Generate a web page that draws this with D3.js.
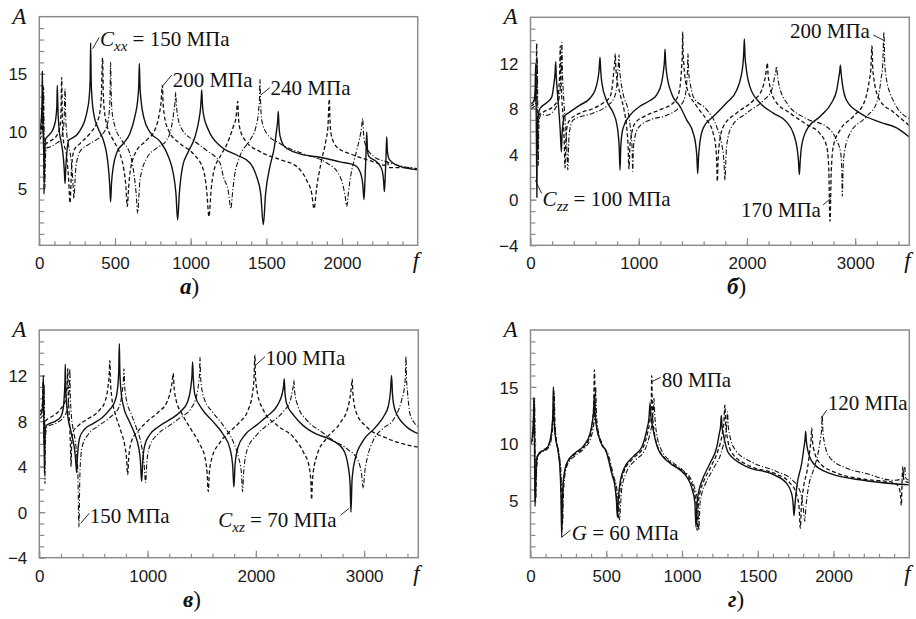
<!DOCTYPE html>
<html>
<head>
<meta charset="utf-8">
<script src="https://cdn.jsdelivr.net/npm/d3@7"></script>
<style>
  body { margin: 0; background: #fff; }
  svg { display: block; background: #fff; }
  .tick text { font-family: "Liberation Sans", Arial, sans-serif; font-size: 17px; fill: #1a1a1a; }
  .note { font-family: "Liberation Serif", "DejaVu Serif", serif; font-size: 21px; fill: #111; }
  .axname { font-family: "Liberation Serif", "DejaVu Serif", serif; font-style: italic; font-size: 23px; fill: #111; }
  .caption { font-family: "Liberation Serif", "DejaVu Serif", serif; font-size: 23px; fill: #111; }
</style>
</head>
<body>
<svg id="chart" width="916" height="619"></svg>
<script>
// ---- panel а : C_xx = 150 / 200 / 240 MPa ----
var aSolid = [[0,10.0],[8,10.3],[14,11.2],[18,12.6],[20,15.2],[22,12.2],[26,9.6],[30,7.8],[33,5.9],[36,8.2],[42,9.3],[60,9.6],[85,10.0],[100,10.5],[110,11.2],[116,12.2],[119,14.0],[123,12.0],[132,10.0],[145,9.0],[158,7.8],[165,6.6],[170,5.4],[175,6.8],[184,8.4],[195,9.2],[220,9.4],[250,9.7],[280,10.3],[300,10.9],[317,11.8],[330,13.0],[336,14.5],[339,17.7],[343,14.3],[348,12.9],[361,11.4],[390,10.2],[423,9.2],[445,8.0],[458,6.6],[466,5.1],[471,3.8],[477,5.4],[489,6.9],[515,8.2],[555,8.9],[599,9.8],[632,11.3],[650,12.7],[657,14.0],[661,15.9],[665,14.0],[672,12.7],[692,11.1],[731,9.9],[797,9.1],[852,7.8],[885,6.3],[903,4.5],[914,2.2],[925,4.5],[947,6.9],[985,8.2],[1029,9.5],[1055,11.0],[1066,12.1],[1070,12.9],[1073,13.6],[1077,12.5],[1084,11.5],[1117,10.1],[1194,8.7],[1304,7.9],[1392,7.2],[1436,6.0],[1463,4.5],[1480,1.8],[1495,4.5],[1524,6.9],[1553,8.6],[1568,10.1],[1575,10.9],[1579,11.7],[1583,10.6],[1590,9.6],[1623,8.6],[1722,8.0],[1855,7.7],[1987,7.3],[2086,7.0],[2123,6.3],[2138,5.2],[2145,4.0],[2152,5.8],[2158,7.8],[2163,9.9],[2168,8.4],[2176,7.8],[2229,7.3],[2264,6.6],[2275,5.6],[2280,4.7],[2286,6.2],[2291,7.8],[2295,9.5],[2300,8.2],[2313,7.5],[2383,6.9],[2500,6.6]];
var aDash = [[0,9.6],[10,9.9],[18,10.8],[22,11.8],[25,14.0],[27,11.5],[29,8.5],[31,4.5],[34,7.5],[40,8.8],[70,9.1],[115,9.6],[137,10.4],[143,11.5],[148,14.7],[152,11.2],[159,9.2],[181,7.8],[194,5.7],[203,3.7],[209,5.3],[214,6.9],[229,8.3],[269,8.9],[335,9.8],[379,10.7],[401,11.7],[410,13.0],[418,16.4],[423,13.2],[430,11.8],[449,10.4],[489,9.2],[533,8.0],[559,6.6],[572,5.2],[581,3.4],[590,5.0],[599,6.3],[632,8.0],[709,9.2],[764,10.1],[793,11.5],[805,12.6],[813,14.0],[818,12.4],[826,11.4],[852,10.1],[930,8.9],[1018,8.0],[1084,6.6],[1106,4.8],[1121,2.5],[1135,4.8],[1150,6.3],[1200,7.9],[1238,8.8],[1282,10.4],[1300,11.2],[1311,12.6],[1316,11.2],[1322,10.4],[1359,9.2],[1458,8.2],[1590,7.5],[1700,6.9],[1766,5.7],[1800,4.5],[1815,3.2],[1833,5.1],[1866,7.5],[1894,9.2],[1907,10.4],[1916,12.8],[1921,10.8],[1927,9.8],[1965,8.6],[2075,7.9],[2163,7.5],[2229,7.2],[2280,7.0],[2300,7.3],[2310,6.8],[2400,6.8],[2500,6.7]];
var aDashDot = [[0,9.2],[12,9.5],[22,10.3],[26,11.5],[29,13.8],[31,10.8],[34,8.0],[37,5.0],[40,7.5],[46,8.5],[70,8.6],[110,8.9],[137,9.2],[155,9.9],[164,11.0],[170,13.7],[175,11.0],[181,9.8],[195,8.6],[207,7.8],[220,6.0],[229,4.1],[236,5.6],[242,6.9],[269,8.2],[335,8.9],[401,9.5],[445,10.4],[463,11.8],[468,13.5],[471,16.0],[475,13.4],[480,11.8],[500,10.4],[544,9.2],[599,8.0],[628,6.0],[640,4.5],[650,2.8],[658,4.3],[665,5.7],[709,7.6],[775,8.5],[841,9.2],[874,10.4],[890,11.8],[897,12.6],[901,13.4],[905,12.4],[912,11.5],[940,10.2],[1018,9.2],[1106,8.3],[1194,7.2],[1216,6.0],[1249,4.7],[1266,3.2],[1276,4.5],[1286,5.7],[1326,7.8],[1392,9.2],[1432,10.4],[1449,11.8],[1455,13.0],[1458,14.5],[1462,12.6],[1469,11.0],[1502,9.8],[1590,8.9],[1744,8.0],[1899,7.2],[1975,6.3],[2009,5.1],[2022,4.2],[2031,3.4],[2042,4.6],[2053,5.7],[2097,8.3],[2123,9.8],[2130,10.4],[2136,11.1],[2142,9.8],[2152,8.9],[2207,7.8],[2295,7.3],[2400,6.9],[2500,6.7]];

// ---- panel б : C_zz = 100 / 170 / 200 MPa ----
var bSolid = [[0,8.4],[20,8.5],[35,8.8],[43,9.8],[48,11.9],[51,9.5],[54,6.0],[57,2.5],[59,0.2],[62,4.5],[68,7.0],[76,7.6],[88,8.0],[149,8.5],[196,9.0],[217,10.2],[227,11.1],[233,12.1],[238,10.8],[248,9.5],[262,7.8],[275,6.0],[285,4.2],[292,5.8],[302,6.8],[310,7.3],[365,7.7],[457,8.3],[550,8.9],[596,9.6],[621,10.5],[634,11.4],[642,12.5],[649,11.3],[660,10.2],[703,8.7],[765,7.6],[796,6.7],[812,5.6],[820,4.5],[827,2.6],[834,4.6],[845,5.8],[864,6.5],[919,7.4],[1012,8.2],[1104,8.7],[1166,9.2],[1212,10.3],[1230,11.4],[1238,12.2],[1243,13.2],[1249,12.0],[1258,11.1],[1304,9.3],[1381,8.2],[1443,7.0],[1505,5.8],[1527,4.8],[1537,3.8],[1545,2.3],[1553,3.8],[1565,5.0],[1597,6.3],[1689,7.3],[1812,8.5],[1905,9.6],[1945,10.8],[1962,11.8],[1970,12.8],[1976,14.1],[1982,12.6],[1991,11.7],[2028,9.9],[2120,8.5],[2243,7.6],[2367,6.8],[2429,5.8],[2465,4.4],[2476,3.4],[2484,2.2],[2492,3.4],[2505,4.7],[2551,6.1],[2675,7.3],[2782,8.5],[2829,9.6],[2850,10.8],[2858,11.3],[2863,11.8],[2869,11.2],[2881,10.2],[2921,8.7],[3044,7.6],[3229,6.8],[3383,6.3],[3500,5.5]];
var bDash = [[0,8.2],[20,8.3],[40,8.6],[50,9.8],[54,11.5],[57,13.7],[60,10.5],[63,7.0],[66,4.5],[70,6.5],[76,7.4],[119,7.7],[211,8.2],[248,8.7],[262,9.8],[270,11.2],[275,13.5],[280,11.0],[290,8.8],[303,7.0],[312,5.0],[319,2.8],[327,5.2],[340,6.5],[365,7.0],[457,7.6],[580,8.0],[673,8.5],[734,9.0],[759,10.2],[771,11.4],[778,12.0],[783,12.8],[789,11.5],[796,10.8],[827,9.3],[864,7.9],[888,6.4],[901,4.9],[910,2.7],[918,4.6],[925,5.2],[965,6.7],[1073,7.4],[1197,7.9],[1320,8.5],[1369,9.3],[1388,10.5],[1397,11.7],[1403,13.0],[1406,14.7],[1410,13.0],[1418,11.7],[1443,9.9],[1536,8.2],[1628,7.0],[1689,5.8],[1714,4.4],[1721,3.2],[1726,1.6],[1732,3.2],[1742,4.7],[1781,6.4],[1905,7.6],[2059,8.7],[2136,9.6],[2170,10.8],[2180,11.4],[2188,12.0],[2195,11.0],[2207,10.2],[2259,8.7],[2398,7.6],[2551,6.6],[2675,5.8],[2736,4.7],[2755,3.0],[2767,-1.9],[2779,2.5],[2798,4.7],[2860,6.1],[2983,7.3],[3090,8.7],[3131,10.5],[3145,11.5],[3155,13.5],[3162,11.6],[3174,10.5],[3229,8.7],[3352,7.7],[3500,6.5]];
var bDashDot = [[0,8.0],[25,8.1],[45,8.4],[56,9.5],[60,10.8],[63,12.3],[66,9.5],[69,6.5],[72,3.0],[76,6.0],[84,7.2],[100,7.5],[149,7.4],[241,8.2],[266,9.0],[278,10.2],[285,11.5],[290,13.8],[295,11.2],[305,9.2],[320,7.0],[333,5.2],[345,2.6],[353,5.0],[365,6.2],[396,7.0],[580,7.6],[703,8.2],[771,8.9],[796,9.9],[808,11.4],[813,12.0],[818,12.7],[823,11.5],[830,10.8],[858,9.2],[904,7.7],[925,6.1],[938,4.7],[944,2.5],[951,4.5],[959,5.2],[996,6.3],[1104,7.0],[1258,7.4],[1381,8.2],[1427,9.0],[1443,10.2],[1450,11.3],[1455,12.8],[1461,11.2],[1474,10.3],[1505,9.0],[1628,7.9],[1720,6.4],[1766,4.9],[1787,3.4],[1797,1.7],[1805,3.4],[1812,4.7],[1858,6.4],[1997,7.6],[2151,8.7],[2228,9.6],[2256,10.8],[2266,11.2],[2274,11.7],[2281,11.0],[2293,10.2],[2367,8.5],[2551,7.1],[2736,6.4],[2829,5.2],[2866,4.1],[2876,2.6],[2881,0.3],[2888,2.6],[2900,4.1],[2952,5.8],[3106,7.3],[3198,8.5],[3238,10.5],[3255,12.0],[3266,14.7],[3273,12.0],[3285,10.8],[3352,8.7],[3500,7.1]];

// ---- panel в : C_xz = 70 / 100 / 150 MPa ----
var vSolid = [[0,8.5],[20,8.7],[30,9.3],[34,10.3],[37,12.0],[40,9.6],[43,7.0],[46,5.0],[48,3.4],[51,5.8],[55,7.0],[62,7.6],[100,7.8],[150,8.0],[200,8.4],[222,9.2],[232,10.4],[237,11.4],[240,13.0],[244,11.0],[250,9.8],[265,8.3],[290,7.2],[315,6.1],[332,5.0],[340,4.0],[345,3.5],[350,4.5],[358,5.6],[375,6.6],[420,7.3],[500,7.8],[580,8.3],[650,9.0],[700,9.8],[722,10.8],[733,12.2],[739,14.8],[744,12.4],[752,10.9],[775,9.4],[830,8.0],[880,6.9],[915,5.8],[933,4.6],[945,2.7],[956,4.6],[975,5.9],[1020,6.8],[1100,7.5],[1200,8.1],[1300,8.8],[1370,9.7],[1398,10.9],[1410,12.0],[1416,13.2],[1422,11.8],[1437,10.3],[1500,9.1],[1600,8.0],[1700,6.8],[1760,5.6],[1785,4.2],[1797,2.2],[1808,4.2],[1835,5.7],[1900,6.8],[2000,7.6],[2100,8.4],[2200,9.4],[2243,10.4],[2255,11.0],[2262,11.7],[2268,10.6],[2285,9.5],[2350,8.5],[2437,7.6],[2550,6.9],[2684,6.4],[2807,5.5],[2853,4.0],[2870,2.5],[2878,0.0],[2888,2.8],[2915,4.6],[2992,6.3],[3100,7.4],[3180,8.4],[3223,9.3],[3243,10.6],[3253,12.0],[3262,10.3],[3284,9.0],[3392,7.5],[3500,6.9]];
var vDash = [[0,8.8],[20,9.0],[28,9.5],[32,10.5],[35,11.5],[38,9.8],[41,7.5],[44,6.0],[48,7.2],[55,8.0],[80,8.2],[150,8.6],[200,9.1],[240,9.8],[252,10.6],[259,11.5],[263,12.6],[267,10.5],[275,8.8],[283,7.0],[289,5.5],[293,4.0],[298,5.8],[308,7.0],[360,7.6],[450,8.2],[550,8.9],[610,9.8],[633,10.9],[645,12.0],[652,13.3],[657,11.6],[668,10.2],[700,8.7],[750,7.2],[790,5.8],[806,4.7],[816,3.3],[826,4.8],[850,6.2],[920,7.2],[1000,8.0],[1100,8.8],[1180,9.7],[1213,10.7],[1228,11.5],[1237,12.2],[1243,11.2],[1262,9.9],[1320,8.6],[1400,7.3],[1480,6.0],[1530,4.8],[1550,3.4],[1560,1.8],[1570,3.4],[1595,4.8],[1660,6.0],[1750,7.0],[1850,7.9],[1930,9.0],[1968,10.4],[1983,11.8],[1991,13.8],[1997,11.8],[2018,10.3],[2068,9.0],[2200,7.6],[2345,6.6],[2437,5.3],[2492,4.0],[2508,2.6],[2515,1.1],[2522,2.8],[2561,4.9],[2653,6.5],[2776,7.8],[2853,9.3],[2876,10.5],[2884,11.2],[2890,11.7],[2896,10.4],[2929,8.7],[3022,7.5],[3207,6.5],[3500,5.7]];
var vDashDot = [[0,8.2],[25,8.4],[38,9.0],[42,10.0],[45,11.2],[48,8.5],[50,5.5],[52,2.5],[55,5.5],[60,7.0],[70,7.5],[150,7.8],[230,8.4],[262,9.2],[274,10.4],[279,11.4],[282,12.6],[286,10.4],[294,8.8],[310,7.4],[330,6.4],[346,5.0],[356,3.5],[366,-1.3],[374,3.0],[385,5.0],[400,5.9],[450,6.8],[550,7.6],[650,8.3],[740,9.3],[763,10.4],[775,11.4],[782,12.6],[788,11.2],[802,10.0],[850,8.6],[900,7.3],[945,5.8],[968,4.2],[982,2.6],[993,4.4],[1020,5.8],[1100,6.9],[1200,7.6],[1300,8.3],[1400,9.1],[1452,10.2],[1472,11.4],[1480,12.3],[1484,13.6],[1489,12.0],[1497,11.1],[1525,9.9],[1600,8.8],[1700,7.6],[1790,6.2],[1840,4.8],[1866,3.5],[1877,1.8],[1888,3.6],[1920,5.5],[2000,6.7],[2100,7.6],[2250,8.8],[2318,9.8],[2340,10.8],[2347,11.2],[2351,11.6],[2357,10.7],[2385,9.4],[2468,8.1],[2600,7.1],[2714,6.3],[2850,5.5],[2940,4.6],[2975,3.4],[2992,2.1],[3004,3.4],[3030,4.8],[3084,6.3],[3180,7.4],[3268,8.1],[3345,9.8],[3372,11.0],[3382,12.2],[3386,13.7],[3391,11.8],[3400,10.6],[3422,8.7],[3460,7.9],[3500,7.5]];

// ---- panel г : G = 60 / 80 / 120 MPa ----
var gSolid = [[0,10.0],[8,10.3],[15,11.0],[20,12.5],[23,14.1],[26,10.5],[28,7.0],[30,4.5],[34,6.5],[38,8.0],[45,8.9],[70,9.3],[107,9.6],[129,10.3],[142,11.5],[148,12.8],[151,15.0],[155,12.5],[162,10.9],[184,9.2],[195,7.7],[201,5.6],[206,1.8],[211,5.0],[217,6.8],[239,8.3],[294,9.2],[349,9.8],[393,10.9],[410,12.1],[417,13.0],[421,14.2],[425,12.8],[432,11.8],[459,10.3],[503,9.2],[536,7.4],[558,6.2],[567,5.0],[573,3.6],[579,5.0],[587,6.2],[613,7.7],[679,8.9],[734,9.7],[767,11.2],[782,12.3],[789,13.6],[795,12.4],[806,11.5],[844,9.5],[921,8.3],[987,7.7],[1031,7.1],[1063,6.2],[1085,4.8],[1092,2.7],[1099,4.7],[1110,5.8],[1130,6.7],[1185,8.3],[1229,9.7],[1246,10.9],[1255,11.6],[1259,12.5],[1264,11.5],[1272,10.9],[1306,9.2],[1427,8.0],[1603,7.3],[1692,6.5],[1724,5.6],[1734,4.6],[1739,3.7],[1745,4.6],[1757,6.2],[1790,8.3],[1805,9.7],[1812,10.4],[1816,11.1],[1821,10.2],[1829,9.5],[1866,8.3],[1977,7.4],[2197,6.8],[2394,6.5],[2500,6.4]];
var gDash = [[0,10.1],[10,10.4],[17,11.2],[22,12.8],[25,14.0],[28,10.0],[30,6.5],[32,5.0],[36,7.0],[40,8.3],[48,9.0],[75,9.4],[110,9.7],[132,10.4],[144,11.6],[150,13.0],[153,14.8],[157,12.3],[164,10.8],[186,9.1],[197,7.6],[203,5.5],[208,2.5],[213,5.3],[219,6.9],[241,8.3],[296,9.1],[351,9.7],[395,10.8],[410,12.0],[417,13.5],[422,16.5],[427,13.2],[435,11.7],[462,10.2],[506,9.1],[540,7.3],[562,6.1],[571,4.8],[578,3.4],[585,4.9],[592,6.1],[618,7.6],[684,8.8],[740,9.6],[773,11.0],[790,12.3],[797,13.6],[800,16.0],[804,13.3],[812,11.5],[850,9.4],[930,8.3],[995,7.7],[1040,7.1],[1072,6.2],[1093,4.8],[1100,2.4],[1107,4.6],[1118,5.7],[1140,6.6],[1195,8.1],[1240,9.5],[1265,10.8],[1276,11.8],[1283,13.4],[1288,11.8],[1296,10.8],[1330,9.2],[1440,8.1],[1610,7.4],[1710,6.6],[1755,5.6],[1772,4.5],[1781,2.6],[1788,4.6],[1800,6.0],[1830,8.0],[1845,9.6],[1852,10.4],[1856,11.4],[1861,10.3],[1870,9.5],[1910,8.3],[2010,7.5],[2200,6.9],[2400,6.6],[2430,6.2],[2442,5.5],[2447,4.6],[2452,6.5],[2457,8.0],[2462,7.0],[2470,6.7],[2500,6.6]];
var gDashDot = [[0,10.0],[12,10.3],[19,11.0],[24,12.6],[27,13.8],[30,10.0],[33,6.5],[35,5.2],[39,7.2],[44,8.4],[52,9.0],[80,9.3],[115,9.6],[136,10.3],[148,11.6],[154,12.8],[157,14.4],[161,12.2],[168,10.7],[190,9.0],[201,7.5],[207,5.5],[212,3.0],[217,5.4],[223,6.8],[245,8.2],[300,9.0],[355,9.6],[400,10.6],[418,11.8],[425,12.8],[430,15.0],[435,12.8],[443,11.5],[470,10.1],[515,9.0],[548,7.2],[570,6.0],[580,4.7],[588,3.3],[595,4.8],[602,6.0],[630,7.4],[695,8.6],[752,9.4],[785,10.7],[802,11.8],[810,12.8],[815,14.0],[820,12.6],[828,11.3],[866,9.4],[945,8.3],[1005,7.7],[1050,7.1],[1082,6.2],[1103,4.9],[1111,2.4],[1118,4.6],[1130,5.6],[1155,6.5],[1210,7.9],[1258,9.2],[1282,10.5],[1294,11.6],[1300,12.8],[1305,11.6],[1314,10.8],[1350,9.5],[1460,8.4],[1620,7.6],[1730,6.8],[1780,5.8],[1800,4.4],[1810,3.2],[1818,4.5],[1832,6.0],[1870,7.8],[1900,9.3],[1915,10.6],[1921,11.3],[1925,12.5],[1930,11.1],[1940,10.1],[1975,8.8],[2100,7.8],[2215,7.4],[2394,6.8],[2450,6.9],[2462,7.3],[2470,8.0],[2476,7.0],[2500,6.8]];

// tick labels
var xTicks2500 = [0, 500, 1000, 1500, 2000];
var xTicks3500 = [0, 1000, 2000, 3000];
var yTicks20 = [5, 10, 15];
var yTicks16 = [-4, 0, 4, 8, 12];

// annotations (data coordinates)
var aNotes = [
    {lead: "C", sub: "xx", text: " = 150 МПа", at: [401, 17.4], line: [[352, 17.2], [396, 18.2]]},
    {text: "200 МПа", at: [881, 13.85], line: [[813, 13.9], [875, 14.9]]},
    {text: "240 МПа", at: [1528, 13.15], line: [[1463, 13.15], [1524, 13.8]]}
];
var bNotes = [
    {lead: "C", sub: "zz", text: " = 100 МПа", at: [112, -0.55], line: [[45, 1.7], [103, 0.55]]},
    {text: "170 МПа", at: [1945, -1.5], line: [[2705, -0.45], [2774, 0.12]]},
    {text: "200 МПа", at: [2398, 14.18], line: [[3167, 14.45], [3260, 14.0]]}
];
var vNotes = [
    {text: "100 МПа", at: [2088, 12.93], line: [[2001, 12.93], [2084, 13.66]]},
    {text: "150 МПа", at: [466, -0.93], line: [[382, -0.98], [462, -0.1]]},
    {lead: "C", sub: "xz", text: " = 70 МПа", at: [1653, -1.28], line: [[2783, -0.25], [2863, 0.34]]}
];
var gNotes = [
    {lead: "G", text: " = 60 МПа", at: [272, 1.55], line: [[206, 1.8], [265, 2.43]]},
    {text: "80 МПа", at: [866, 15.0], line: [[800, 15.46], [859, 15.84]]},
    {text: "120 МПа", at: [1962, 12.97], line: [[1917, 12.24], [1955, 12.97]]}
];

var styles = {
    solid: {dash: null, width: 1.4},
    dash: {dash: "4,2.5", width: 1.3},
    dashdot: {dash: "5,2,1.2,2", width: 1.1}
};

var svg = d3.select("#chart");
var frameColor = "#8c8c8c";

function drawPanel(p, idx) {
    var x = d3.scaleLinear().domain([0, p.xMax]).range([p.left, p.right]);
    var y = d3.scaleLinear().domain([p.yMin, p.yMax]).range([p.bottom, p.top]);
    var g = svg.append("g");

    // minor ticks
    var xMinor = d3.range(p.xStep, p.xMax, p.xStep);
    var yMinor = d3.range(p.yMin + 1, p.yMax, 1);
    g.append("g")
        .attr("transform", "translate(0," + p.bottom + ")")
        .call(d3.axisBottom(x).tickValues(xMinor).tickSize(-4).tickSizeOuter(0).tickFormat(""))
        .call(function (s) { s.select(".domain").remove(); });
    g.append("g")
        .attr("transform", "translate(" + p.left + ",0)")
        .call(d3.axisLeft(y).tickValues(yMinor).tickSize(-5).tickSizeOuter(0).tickFormat(""))
        .call(function (s) { s.select(".domain").remove(); });

    // major ticks with labels
    var xa = g.append("g")
        .attr("transform", "translate(0," + p.bottom + ")")
        .call(d3.axisBottom(x).tickValues(p.xTicks).tickSize(-7).tickSizeOuter(0).tickFormat(d3.format("d")));
    xa.select(".domain").remove();
    xa.selectAll(".tick text").attr("y", 24).attr("dy", 0);
    var ya = g.append("g")
        .attr("transform", "translate(" + p.left + ",0)")
        .call(d3.axisLeft(y).tickValues(p.yTicks).tickSize(-6).tickSizeOuter(0).tickFormat(d3.format("d")));
    ya.select(".domain").remove();
    ya.selectAll(".tick text").attr("x", -12).attr("dy", "0.36em");
    g.selectAll(".tick line").attr("stroke", frameColor).attr("stroke-width", 1.2);

    // clip + curves
    var clipId = "clip" + idx;
    svg.append("clipPath").attr("id", clipId)
        .append("rect")
        .attr("x", p.left).attr("y", p.top)
        .attr("width", p.right - p.left).attr("height", p.bottom - p.top);

    var line = d3.line()
        .x(function (d) { return x(d[0]); })
        .y(function (d) { return y(d[1]); })
        .curve(d3.curveMonotoneX);

    g.append("g").attr("clip-path", "url(#" + clipId + ")")
        .selectAll("path")
        .data(p.series)
        .enter()
        .append("path")
        .attr("d", function (d) { return line(d.values); })
        .attr("fill", "none")
        .attr("stroke", "#111")
        .attr("stroke-width", function (d) { return styles[d.style].width; })
        .attr("stroke-dasharray", function (d) { return styles[d.style].dash; })
        .attr("stroke-linejoin", "round");

    // frame
    g.append("rect")
        .attr("x", p.left).attr("y", p.top)
        .attr("width", p.right - p.left).attr("height", p.bottom - p.top)
        .attr("fill", "none")
        .attr("stroke", frameColor)
        .attr("stroke-width", 1.5);

    // annotations
    p.notes.forEach(function (n) {
        g.append("line")
            .attr("x1", x(n.line[0][0])).attr("y1", y(n.line[0][1]))
            .attr("x2", x(n.line[1][0])).attr("y2", y(n.line[1][1]))
            .attr("stroke", "#111").attr("stroke-width", 0.9);
        var t = g.append("text").attr("class", "note")
            .attr("x", x(n.at[0])).attr("y", y(n.at[1]));
        if (n.lead) {
            t.append("tspan").attr("font-style", "italic").text(n.lead);
        }
        if (n.sub) {
            t.append("tspan").attr("font-style", "italic").attr("font-size", "15px")
                .attr("dy", 5).text(n.sub);
            t.append("tspan").attr("dy", -5).text(n.text);
        } else {
            t.append("tspan").text(n.text);
        }
    });

    // axis names
    g.append("text").attr("class", "axname")
        .attr("x", p.left - 27).attr("y", p.top + 7).text("A");
    g.append("text").attr("class", "axname")
        .attr("x", p.right - 5).attr("y", p.bottom + 23).text("f");

    // caption
    var c = g.append("text").attr("class", "caption")
        .attr("x", p.capX).attr("y", p.bottom + 49);
    c.append("tspan").attr("font-weight", "bold").attr("font-style", "italic").text(p.caption);
    c.append("tspan").text(")");
}

var panels = [
    {left: 39.3, right: 417.7, top: 16.7, bottom: 245.3, xMax: 2500, xStep: 100, yMin: 0, yMax: 20,
        xTicks: xTicks2500, yTicks: yTicks20, capX: 180, caption: "а", notes: aNotes,
        series: [{values: aDashDot, style: "dashdot"}, {values: aDash, style: "dash"}, {values: aSolid, style: "solid"}]},
    {left: 530.5, right: 909.3, top: 17.3, bottom: 245.3, xMax: 3500, xStep: 200, yMin: -4, yMax: 16,
        xTicks: xTicks3500, yTicks: yTicks16, capX: 727, caption: "б", notes: bNotes,
        series: [{values: bDashDot, style: "dashdot"}, {values: bDash, style: "dash"}, {values: bSolid, style: "solid"}]},
    {left: 39.3, right: 418.3, top: 330, bottom: 557.7, xMax: 3500, xStep: 200, yMin: -4, yMax: 16,
        xTicks: xTicks3500, yTicks: yTicks16, capX: 183, caption: "в", notes: vNotes,
        series: [{values: vDashDot, style: "dashdot"}, {values: vDash, style: "dash"}, {values: vSolid, style: "solid"}]},
    {left: 530.5, right: 909.3, top: 330, bottom: 557.7, xMax: 2500, xStep: 100, yMin: 0, yMax: 20,
        xTicks: xTicks2500, yTicks: yTicks20, capX: 728, caption: "г", notes: gNotes,
        series: [{values: gDashDot, style: "dashdot"}, {values: gDash, style: "dash"}, {values: gSolid, style: "solid"}]}
];

panels.forEach(drawPanel);
</script>
</body>
</html>
